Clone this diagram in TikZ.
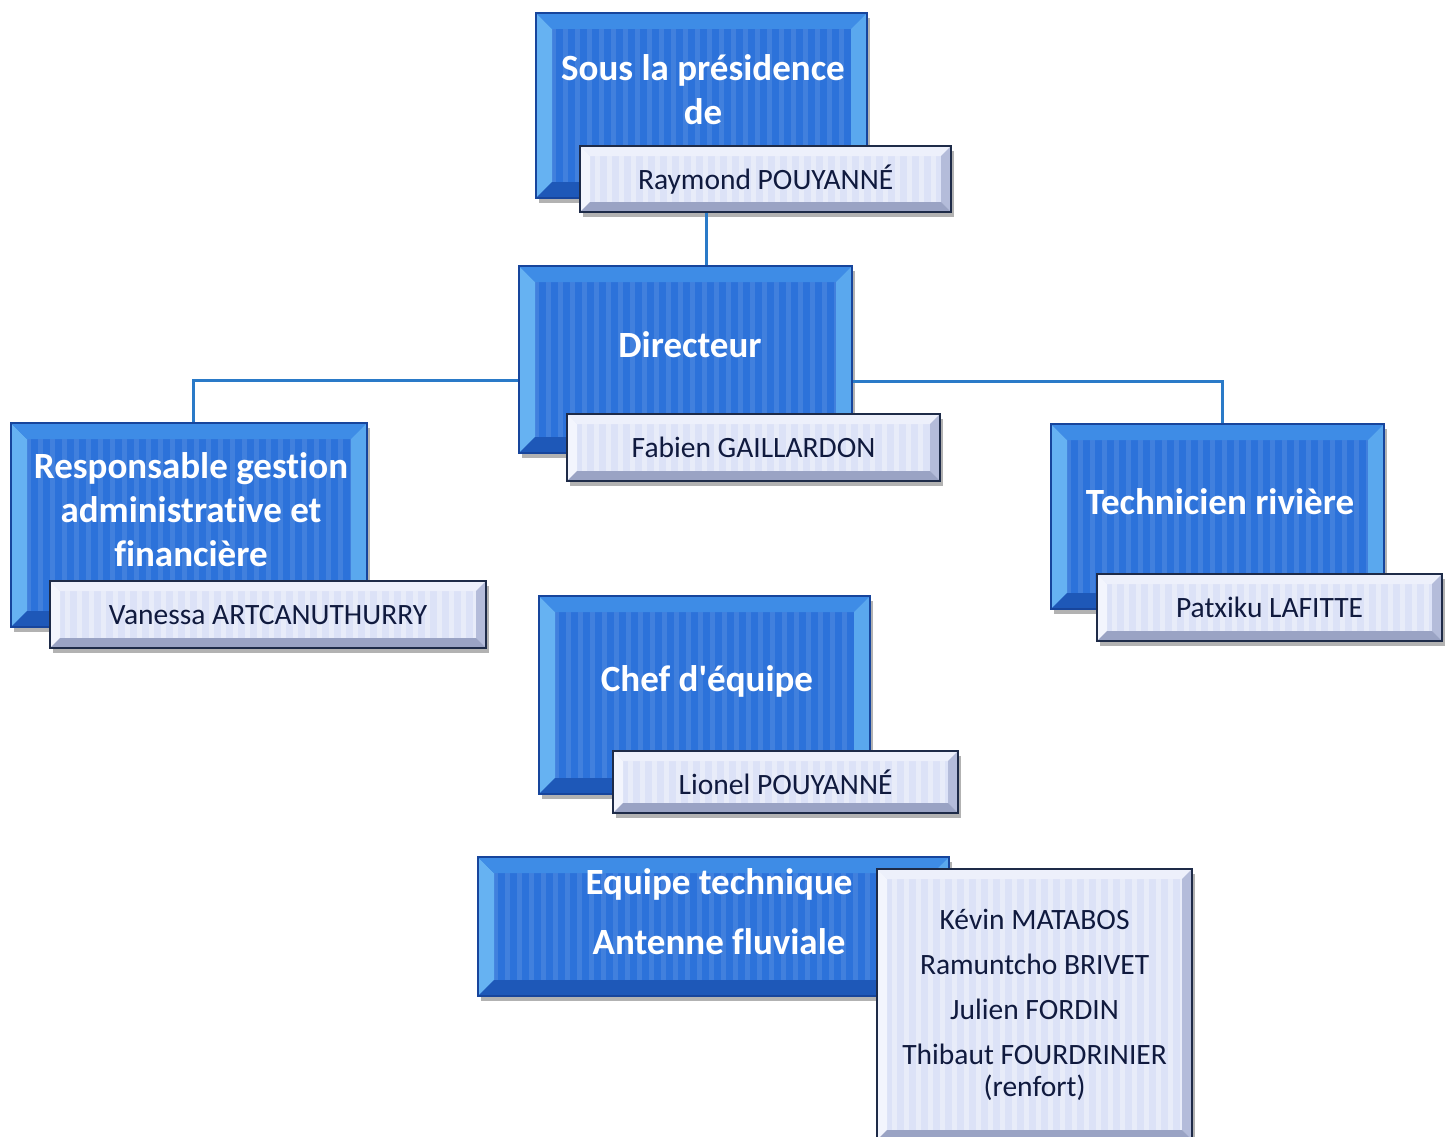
\documentclass[tikz,border=0pt]{standalone}
\usepackage{fontspec}
\setmainfont{Carlito}[Ligatures={TeXOff,NoCommon}]
\usetikzlibrary{shadows}
\definecolor{bluefill}{HTML}{2C72DA}
\definecolor{blueedge}{HTML}{17459C}
\definecolor{bevL}{HTML}{66B2F2}
\definecolor{bevT}{HTML}{3E8CE6}
\definecolor{bevR}{HTML}{5AA8EE}
\definecolor{bevB}{HTML}{1E58B8}
\definecolor{namefill}{HTML}{DCE2F7}
\definecolor{nameedge}{HTML}{1E2B48}
\definecolor{nbevL}{HTML}{F3F5FD}
\definecolor{nbevT}{HTML}{EDF0FB}
\definecolor{nbevR}{HTML}{B4BCDA}
\definecolor{nbevB}{HTML}{9AA3C4}
\definecolor{namecol}{HTML}{101A3E}
\definecolor{linkcol}{HTML}{2A7AC8}
\newcommand{\bevelfill}[5]{%
  \coordinate (bSW) at (path picture bounding box.south west);
  \coordinate (bNE) at (path picture bounding box.north east);
  \coordinate (bNW) at (path picture bounding box.north west);
  \coordinate (bSE) at (path picture bounding box.south east);
  \fill[#2] (bSW) -- (bNW) -- ([shift={(#1,-#1)}]bNW) -- ([shift={(#1,#1)}]bSW) -- cycle;
  \fill[#3] (bNW) -- (bNE) -- ([shift={(-#1,-#1)}]bNE) -- ([shift={(#1,-#1)}]bNW) -- cycle;
  \fill[#4] (bNE) -- (bSE) -- ([shift={(-#1,#1)}]bSE) -- ([shift={(-#1,-#1)}]bNE) -- cycle;
  \fill[#5] (bSE) -- (bSW) -- ([shift={(#1,#1)}]bSW) -- ([shift={(-#1,#1)}]bSE) -- cycle;
}
\newcommand{\stripefill}[1]{%
  \foreach \k in {0,...,42}{
    \fill[#1] ([xshift=\k*12pt+3pt]path picture bounding box.south west) rectangle ([xshift=\k*12pt+8pt]path picture bounding box.north west);
  }%
}
\tikzset{
  bluebox/.style={rectangle, anchor=north west, inner sep=0pt, draw=blueedge, line width=2pt, fill=bluefill,
    drop shadow={shadow xshift=3pt, shadow yshift=-5pt, opacity=.3, fill=black},
    path picture={\stripefill{white,opacity=.10}\bevelfill{16pt}{bevL}{bevT}{bevR}{bevB}}},
  namebox/.style={rectangle, anchor=north west, inner sep=0pt, draw=nameedge, line width=2.2pt, fill=namefill,
    drop shadow={shadow xshift=3pt, shadow yshift=-5pt, opacity=.3, fill=black},
    text=namecol, font=\fontsize{29.5}{45}\selectfont, align=center,
    path picture={\stripefill{white,opacity=.35}\bevelfill{10pt}{nbevL}{nbevT}{nbevR}{nbevB}}},
  titletext/.style={text=white, font=\fontsize{37}{44}\selectfont\bfseries, align=center, inner sep=0pt},
  link/.style={draw=linkcol, line width=3pt}
}
\begin{document}
\begin{tikzpicture}[x=1pt, y=-1pt]
\useasboundingbox (0,0) rectangle (1451,1137);
\fill[white] (0,0) rectangle (1451,1137);

% boxes
\node[bluebox, minimum width=331pt, minimum height=185pt] (b1) at (535,12) {};
\node[namebox, minimum width=371pt, minimum height=66pt] (n1) at (579,145) {Raymond POUYANNÉ};

\node[bluebox, minimum width=333pt, minimum height=187pt] (b2) at (518,265) {};
\node[namebox, minimum width=373pt, minimum height=67pt] (n2) at (566,413) {Fabien GAILLARDON};

\coordinate (c1) at (706,0);
\coordinate (j1) at (193,380);
\coordinate (j2) at (1222,381);

\node[bluebox, minimum width=356pt, minimum height=204pt] (b3) at (10,422) {};
\node[namebox, minimum width=436pt, minimum height=67pt] (n3) at (49,580) {Vanessa ARTCANUTHURRY};

\node[bluebox, minimum width=333pt, minimum height=185pt] (b4) at (1050,423) {};
\node[namebox, minimum width=345pt, minimum height=67pt] (n4) at (1096,573) {Patxiku LAFITTE};

\node[bluebox, minimum width=331pt, minimum height=198pt] (b5) at (538,595) {};
\node[namebox, minimum width=345pt, minimum height=62pt] (n5) at (612,750) {Lionel POUYANNÉ};

\node[bluebox, minimum width=471pt, minimum height=139pt] (b6) at (477,856) {};
\node[namebox, minimum width=315pt, minimum height=271pt] (n6) at (876,868)
  {Kévin MATABOS\\Ramuntcho BRIVET\\Julien FORDIN\\Thibaut FOURDRINIER\\[-13pt](renfort)};

% titles
\node[titletext] (t1) at (703,90) {Sous la présidence\\de};
\node[titletext] (t2) at (690,345) {Directeur};
\node[titletext] (t3) at (191,510) {Responsable gestion\\administrative et\\financière};
\node[titletext] (t4) at (1220,502) {Technicien rivière};
\node[titletext] (t5) at (707,681) {Chef d'équipe};
\node[titletext] (t6) at (719,912) {Equipe technique\\[16pt]Antenne fluviale};

% connectors
\draw[link] (n1.south -| c1) -- (b2.north -| c1);
\draw[link] (b2.west |- j1) -| (b3.north -| j1);
\draw[link] (b2.east |- j2) -| (b4.north -| j2);
\end{tikzpicture}
\end{document}
